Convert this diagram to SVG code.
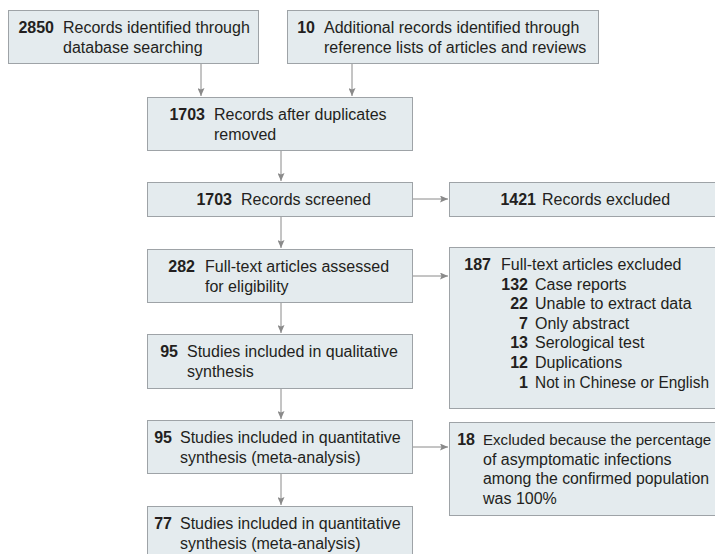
<svg xmlns="http://www.w3.org/2000/svg" width="715" height="554" viewBox="0 0 715 554">
<defs>
<style>
.box{fill:#e4ebee;stroke:#9ea3a7;stroke-width:1}
text{font-family:"Liberation Sans",Arial,sans-serif;font-size:16px;fill:#231f20}
.n{font-weight:bold;text-anchor:end}
.c{stroke:#8a8a8a;stroke-width:1;fill:none}
</style>
<marker id="ah" markerWidth="8" markerHeight="7" refX="8" refY="3.5" orient="auto" markerUnits="userSpaceOnUse">
<path d="M0,0 L8,3.5 L0,7 L1.5,3.5 z" fill="#8a8a8a"/>
</marker>
</defs>
<rect width="715" height="554" fill="#ffffff"/>
<g id="connectors">
<line class="c" x1="201" y1="63" x2="201" y2="96" marker-end="url(#ah)"/>
<line class="c" x1="352" y1="63" x2="352" y2="96" marker-end="url(#ah)"/>
<line class="c" x1="281" y1="150" x2="281" y2="181" marker-end="url(#ah)"/>
<line class="c" x1="281" y1="216" x2="281" y2="248" marker-end="url(#ah)"/>
<line class="c" x1="281" y1="302" x2="281" y2="333" marker-end="url(#ah)"/>
<line class="c" x1="281" y1="388" x2="281" y2="419" marker-end="url(#ah)"/>
<line class="c" x1="281" y1="473" x2="281" y2="505" marker-end="url(#ah)"/>
<line class="c" x1="412" y1="199" x2="448" y2="199" marker-end="url(#ah)"/>
<line class="c" x1="412" y1="276" x2="448" y2="276" marker-end="url(#ah)"/>
<line class="c" x1="412" y1="447" x2="448" y2="447" marker-end="url(#ah)"/>
</g>
<g id="n1">
<rect class="box" x="8.5" y="10.5" width="250" height="53"/>
<text class="n" x="54" y="33">2850</text>
<text x="63" y="33">Records identified through</text>
<text x="63" y="52.5">database searching</text>
</g>
<g id="n2">
<rect class="box" x="287.5" y="10.5" width="311" height="53"/>
<text class="n" x="315" y="33">10</text>
<text x="324" y="33">Additional records identified through</text>
<text x="324" y="52.5">reference lists of articles and reviews</text>
</g>
<g id="n3">
<rect class="box" x="147.5" y="97.5" width="265" height="53"/>
<text class="n" x="205" y="120">1703</text>
<text x="214" y="120">Records after duplicates</text>
<text x="214" y="139.5">removed</text>
</g>
<g id="n4">
<rect class="box" x="147.5" y="182.5" width="265" height="34"/>
<text class="n" x="232" y="205">1703</text>
<text x="241" y="205">Records screened</text>
</g>
<g id="n5">
<rect class="box" x="147.5" y="249.5" width="265" height="53"/>
<text class="n" x="195" y="272">282</text>
<text x="205" y="272">Full-text articles assessed</text>
<text x="205" y="291.5">for eligibility</text>
</g>
<g id="n6">
<rect class="box" x="147.5" y="334.5" width="265" height="54"/>
<text class="n" x="178" y="357">95</text>
<text x="187" y="357">Studies included in qualitative</text>
<text x="187" y="376.5">synthesis</text>
</g>
<g id="n7">
<rect class="box" x="147.5" y="420.5" width="265" height="53"/>
<text class="n" x="172" y="443">95</text>
<text x="180" y="443">Studies included in quantitative</text>
<text x="180" y="462.5">synthesis (meta-analysis)</text>
</g>
<g id="n8">
<rect class="box" x="147.5" y="506.5" width="265" height="60"/>
<text class="n" x="172" y="529">77</text>
<text x="180" y="529">Studies included in quantitative</text>
<text x="180" y="548.5">synthesis (meta-analysis)</text>
</g>
<g id="r1">
<rect class="box" x="449.5" y="182.5" width="280" height="34"/>
<text class="n" x="536" y="205">1421</text>
<text x="542" y="205">Records excluded</text>
</g>
<g id="r2">
<rect class="box" x="449.5" y="247.5" width="280" height="161"/>
<text class="n" x="491" y="270">187</text>
<text x="501" y="270">Full-text articles excluded</text>
<text class="n" x="528" y="289.6">132</text>
<text x="535" y="289.6">Case reports</text>
<text class="n" x="528" y="309.2">22</text>
<text x="535" y="309.2">Unable to extract data</text>
<text class="n" x="528" y="328.8">7</text>
<text x="535" y="328.8">Only abstract</text>
<text class="n" x="528" y="348.4">13</text>
<text x="535" y="348.4">Serological test</text>
<text class="n" x="528" y="368">12</text>
<text x="535" y="368">Duplications</text>
<text class="n" x="528" y="387.6">1</text>
<text x="535" y="387.6" textLength="174" lengthAdjust="spacingAndGlyphs">Not in Chinese or English</text>
</g>
<g id="r3">
<rect class="box" x="449.5" y="422.5" width="280" height="93"/>
<text class="n" x="475" y="445">18</text>
<text x="483" y="445" style="font-size:15.1px">Excluded because the percentage</text>
<text x="483" y="464.5">of asymptomatic infections</text>
<text x="483" y="484" textLength="226" lengthAdjust="spacingAndGlyphs">among the confirmed population</text>
<text x="483" y="503.5">was 100%</text>
</g>
</svg>
